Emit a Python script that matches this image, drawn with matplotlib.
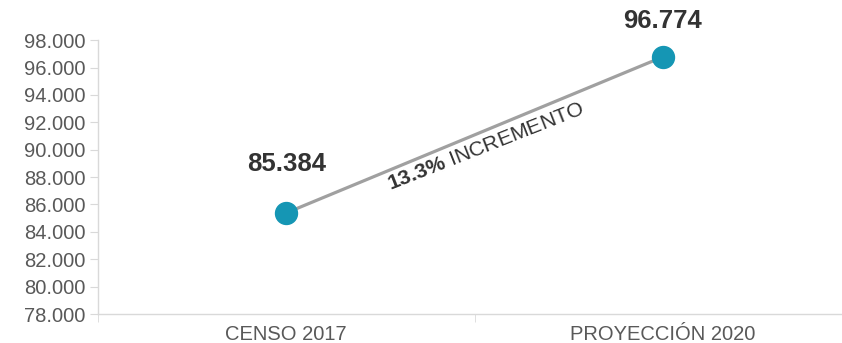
import matplotlib
matplotlib.use("Agg")
import matplotlib.pyplot as plt
from matplotlib.ticker import FuncFormatter, FixedLocator

plt.rcParams['font.family'] = ['Liberation Sans', 'DejaVu Sans']
plt.rcParams['mathtext.fontset'] = 'custom'
plt.rcParams['mathtext.rm'] = 'Liberation Sans'
plt.rcParams['mathtext.bf'] = 'Liberation Sans:bold'

categories = ["CENSO 2017", "PROYECCIÓN 2020"]
values = [85384, 96774]
label_texts = ["85.384", "96.774"]
yticks = list(range(78000, 98001, 2000))

fig = plt.figure(figsize=(8.42, 3.43), dpi=100)
ax = fig.add_axes([0.1164, 0.0845, 0.8943, 0.7985])

x = list(range(len(categories)))
ax.plot(x, values, color="#a0a0a0", lw=2.3, zorder=2)
ax.plot(x, values, "o", color="#1596b4", markersize=15.8, zorder=3)

offsets = [(0, 35), (0, 26)]
for xi, v, t, off in zip(x, values, label_texts, offsets):
    ax.annotate(t, (xi, v), xytext=off, textcoords="offset points",
                ha="center", va="center", fontsize=18.5, fontweight="bold",
                color="#333333")

ax.text(0.531, 90260, r"$\mathbf{13.3\%}$ INCREMENTO", rotation=21.5,
        ha="center", va="center", fontsize=15.3, color="#333333",
        rotation_mode="anchor")

ax.set_xlim(-0.5, 1.5)
ax.set_ylim(78000, 98000)
ax.set_yticks(yticks)
ax.yaxis.set_major_formatter(FuncFormatter(lambda v, p: f"{v/1000:.3f}"))
ax.set_xticks(x)
ax.set_xticklabels(categories)
ax.xaxis.set_minor_locator(FixedLocator([-0.5, 0.5, 1.5]))
ax.tick_params(axis="x", which="major", length=0, pad=8, labelsize=14.5,
               labelcolor="#595959")
ax.tick_params(axis="x", which="minor", length=6, color="#d9d9d9")
ax.tick_params(axis="y", length=6, color="#d9d9d9", labelsize=14.5,
               labelcolor="#595959", pad=3)

for s in ["top", "right"]:
    ax.spines[s].set_visible(False)
for s in ["left", "bottom"]:
    ax.spines[s].set_color("#d9d9d9")
    ax.spines[s].set_linewidth(1)

fig.savefig("out.png", dpi=100)
